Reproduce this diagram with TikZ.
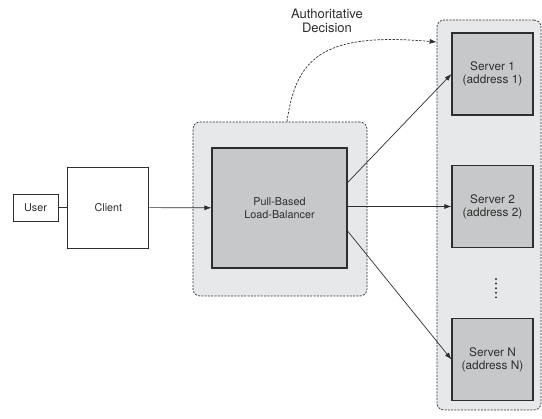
\documentclass[tikz,border=0pt]{standalone}
\usepackage{fontspec}
\setmainfont{TeX Gyre Heros}
\usepackage{xcolor}
\usepackage{tikz}
\usetikzlibrary{calc,positioning,arrows.meta}
\definecolor{groupBg}{HTML}{E7E8E9}
\definecolor{boxFill}{HTML}{C7C8C9}
\definecolor{inkGray}{HTML}{2E2E2E}
\tikzset{
    plainBox/.style={draw=inkGray, fill=white, line width=0.9pt,
                     font=\fontsize{10.8}{13.3}\selectfont, text=inkGray,
                     align=center, inner sep=2pt},
    grayBox/.style={draw=inkGray, fill=boxFill, line width=1.1pt,
                    font=\fontsize{10.8}{13.3}\selectfont, text=inkGray,
                    align=center, inner sep=2pt},
    serverBox/.style={grayBox, font=\fontsize{11.8}{13.3}\selectfont,
                      minimum width=81pt, minimum height=82pt},
    groupBox/.style={draw=inkGray, fill=groupBg, dashed,
                     dash pattern=on 2pt off 1.3pt, line width=0.7pt,
                     rounded corners=7pt},
    link/.style={draw=inkGray, line width=0.8pt},
    flow/.style={draw=inkGray, line width=0.7pt, -{Latex[length=7pt,width=5pt]}},
    decision/.style={draw=inkGray, line width=0.7pt, dashed,
                     dash pattern=on 2.4pt off 1.4pt,
                     -{Latex[length=7pt,width=5pt]}},
}

\begin{document}
\begin{tikzpicture}[x=1pt, y=-1pt]
\useasboundingbox (0,0) rectangle (542,419);

% ---- dashed group frames (drawn first, behind the boxes)
\node[groupBox, minimum width=174pt, minimum height=174pt] (lbGroup) at (280,209) {};
\node[groupBox, minimum width=104pt, minimum height=390pt] (srvGroup) at (489,215) {};

% ---- left side
\node[plainBox, minimum width=45pt, minimum height=27pt] (user) at (35.5,207.5) {User};
\node[plainBox, minimum width=81pt, minimum height=81pt, right=9pt of user] (client) {Client};

% ---- load balancer
\node[grayBox, minimum width=135pt, minimum height=120pt] (lb) at (279.5,208)
     {Pull-Based\\Load-Balancer};

% ---- servers
\node[serverBox] (srv1) at (492.5,74)    {Server 1\\(address 1)};
\node[serverBox] (srv2) at (492.5,206.5) {Server 2\\(address 2)};
\node[serverBox] (srvN) at (492.5,359.5) {Server N\\(address N)};

% vertical ellipsis between server 2 and server N
\foreach \k in {0,...,4}
    \fill[inkGray] (496,279+4.6*\k) circle (1.1pt);

% ---- connectors
\draw[link] (user) -- (client);
\draw[flow] (client) -- (lb);
\draw[flow] ($(lb.north east)!0.29!(lb.south east)$) -- (srv1.west);
\draw[flow] (lb.east |- srv2.west) -- (srv2.west);
\draw[flow] ($(lb.north east)!0.69!(lb.south east)$) -- (srvN.west);

% authoritative decision goes straight to the server pool
\coordinate (decStart) at ($(lbGroup.north)+(7,0)$);
\coordinate (decEnd) at (srvGroup.west |- 0,42);
\draw[decision] (decStart) .. controls (296,58) and (322,32) .. (decEnd);
\node[font=\fontsize{13}{13.5}\selectfont, text=inkGray, align=center] (decLabel)
     at (327,21) {Authoritative\\Decision};

\end{tikzpicture}
\end{document}
